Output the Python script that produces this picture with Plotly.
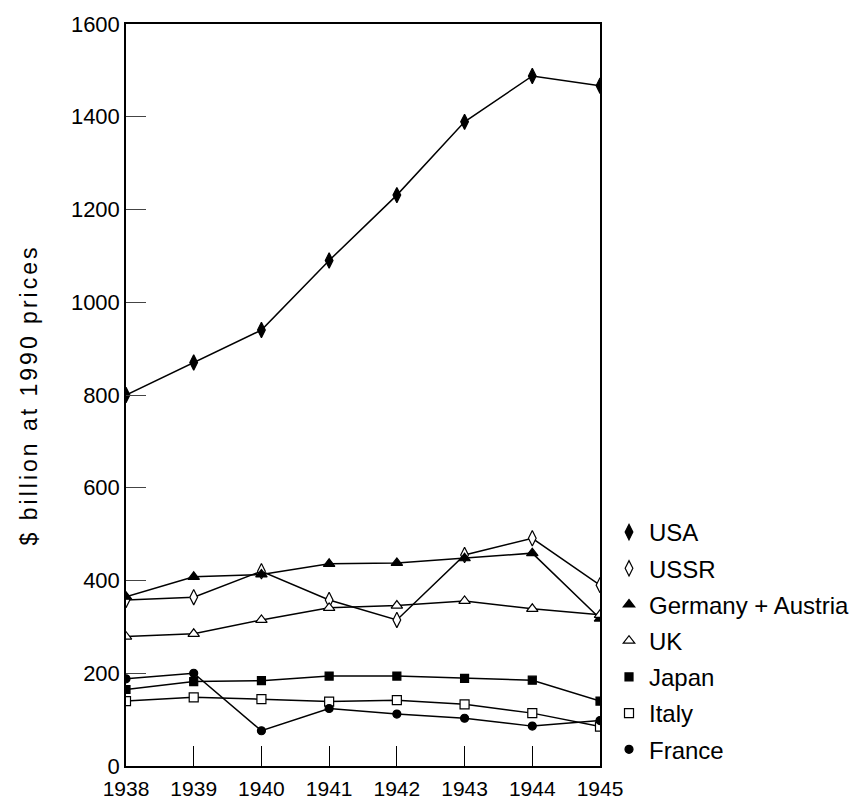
import plotly.graph_objects as go

years = [1938, 1939, 1940, 1941, 1942, 1943, 1944, 1945]
usa = [800, 870, 940, 1090, 1231, 1389, 1488, 1467]
ussr = [358, 364, 420, 358, 315, 455, 491, 390]
germany_austria = [365, 408, 413, 436, 438, 448, 459, 318]
uk = [279, 285, 315, 341, 346, 356, 339, 326]
japan = [165, 182, 184, 194, 194, 189, 185, 140]
italy = [140, 148, 144, 139, 142, 133, 114, 85]
france = [188, 200, 76, 124, 112, 103, 86, 98]

y_ticks = [0, 200, 400, 600, 800, 1000, 1200, 1400, 1600]

series = [
    ("USA", usa, "diamond-tall", "black", 11),
    ("USSR", ussr, "diamond-tall", "white", 11),
    ("Germany + Austria", germany_austria, "triangle-up", "black", 10),
    ("UK", uk, "triangle-up", "white", 10),
    ("Japan", japan, "square", "black", 8),
    ("Italy", italy, "square", "white", 9),
    ("France", france, "circle", "black", 8),
]

fig = go.Figure()
# connecting lines first (no legend entry)
for name, vals, sym, fill, size in series:
    fig.add_trace(go.Scatter(
        x=years, y=vals, name=name, mode="lines", legendgroup=name,
        showlegend=False, hoverinfo="skip",
        line=dict(color="black", width=1.5),
    ))
# markers on top, these carry the legend (marker only, as in the reference)
for name, vals, sym, fill, size in series:
    fig.add_trace(go.Scatter(
        x=years, y=vals, name=name, mode="markers", legendgroup=name,
        marker=dict(symbol=sym, color=fill, size=size,
                    line=dict(color="black", width=1.2)),
    ))

font_family = "Liberation Sans, Arial, sans-serif"
fig.update_layout(
    width=859, height=791,
    margin=dict(l=118, r=263, t=16, b=33),
    paper_bgcolor="white", plot_bgcolor="white",
    font=dict(family=font_family, color="black", size=22),
    showlegend=True,
    legend=dict(
        x=1.019, y=0.345, xanchor="left", yanchor="top",
        font=dict(size=24, color="black"),
        bgcolor="rgba(0,0,0,0)", itemsizing="trace",
        tracegroupgap=2,
    ),
    xaxis=dict(
        range=[1938, 1945], tickvals=years, ticktext=[str(y) for y in years],
        ticks="inside", ticklen=20, tickwidth=1, tickcolor="black",
        showline=True, linecolor="black", linewidth=1.5, mirror=True,
        showgrid=False, zeroline=False, automargin=False,
        tickfont=dict(size=21), ticklabelstandoff=3,
    ),
    yaxis=dict(
        range=[0, 1600], tickvals=y_ticks,
        ticks="inside", ticklen=20, tickwidth=1, tickcolor="#444",
        showline=True, linecolor="black", linewidth=1.5, mirror=True,
        showgrid=False, zeroline=False, automargin=False,
        tickfont=dict(size=22),
        title=dict(text='<span style="letter-spacing:3px">$ billion at 1990 prices</span>',
                   font=dict(size=23), standoff=27),
    ),
)

fig.write_html("out.html")
